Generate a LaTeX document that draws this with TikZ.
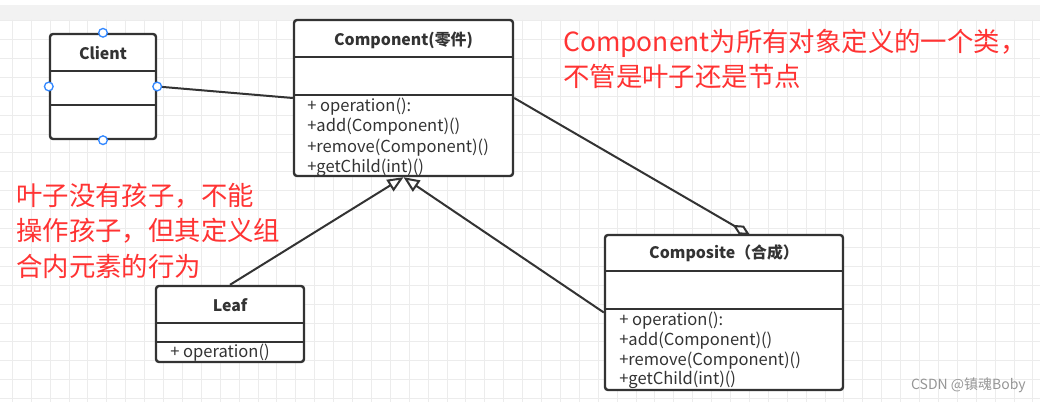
\documentclass[tikz,border=0pt]{standalone}
\usepackage{fontspec}
\setmainfont{Noto Sans CJK SC}
\usepackage{xcolor}
\usetikzlibrary{arrows.meta}

\definecolor{umlgray}{RGB}{51,51,51}
\definecolor{notered}{RGB}{255,51,51}
\definecolor{gridgray}{RGB}{236,236,236}
\definecolor{bandgray}{RGB}{242,242,242}
\definecolor{handleblue}{RGB}{51,136,255}

\tikzset{
	umlbox/.style={draw=umlgray, line width=1.8pt, rounded corners=2.25pt, fill=white, inner sep=0pt},
	umlsep/.style={draw=umlgray, line width=1.8pt},
	umltitle/.style={inner sep=0.75pt, text=umlgray, font=\bfseries\fontsize{11.9}{13}\selectfont},
	umlop/.style={anchor=west, inner sep=0.75pt, text=umlgray, font=\fontsize{12.4}{14}\selectfont},
	link/.style={draw=umlgray, line width=1.5pt},
	handle/.style={circle, draw=handleblue, fill=white, line width=1pt, minimum size=6.5pt, inner sep=0pt},
	notetext/.style={anchor=north west, inner sep=0pt, align=left, text=notered, font=\fontsize{19.8}{26.5}\selectfont},
}

\begin{document}
\begin{tikzpicture}[x=0.75pt,y=0.75pt,yscale=-1,xscale=1]
			\useasboundingbox (0,0) rectangle (1040,402);
			%Background and grid
			\fill [white] (0,0) rectangle (1040,402);
			\fill [bandgray] (0,5) rectangle (1040,20);
			\foreach \gx in {0,...,54} \draw [gridgray, line width=0.75pt] ({12.3+18.9*\gx},20) -- ({12.3+18.9*\gx},402);
			\foreach \gy in {0,...,20} \draw [gridgray, line width=0.75pt] (0,{20.7+18.9*\gy}) -- (1040,{20.7+18.9*\gy});

			%Shape: Client box
			\node [umlbox, minimum width=79.5pt, minimum height=78.75pt] (client) at (103,86.5) {};
			\draw [umlsep] (50,71) -- (156,71) ;
			\draw [umlsep] (50,105) -- (156,105) ;
			%Shape: Component box
			\node [umlbox, minimum width=164.25pt, minimum height=117pt] (component) at (403.5,98) {};
			\draw [umlsep] (294,57) -- (513,57) ;
			\draw [umlsep] (294,95) -- (513,95) ;
			%Shape: Composite box
			\node [umlbox, minimum width=178.5pt, minimum height=116.25pt] (composite) at (724,312.5) {};
			\draw [umlsep] (605,271) -- (843,271) ;
			\draw [umlsep] (605,309) -- (843,309) ;
			%Shape: Leaf box
			\node [umlbox, minimum width=111pt, minimum height=57pt] (leaf) at (230,324) {};
			\draw [umlsep] (156,323) -- (304,323) ;
			\draw [umlsep] (156,342) -- (304,342) ;

			%Straight Lines
			\coordinate (aggend) at (750,235);
			\draw [link] (client.east) -- (component.west) ;
			\draw [link, -{Diamond[length=15pt, width=7.5pt, fill=white, line width=1.5pt]}] (component.east) -- (aggend) ;
			\draw [link, -{Triangle[open, length=12pt, width=10pt, line width=1.5pt]}] (leaf.north) -- (component.south) ;
			\draw [link, -{Triangle[open, length=12pt, width=10pt, line width=1.5pt]}] (composite.west) -- (component.south) ;

			%Shape: Circle handles
			\node [handle] (hnorth) at (client.north) {};
			\node [handle] (hsouth) at (client.south) {};
			\node [handle] (hwest) at (client.west) {};
			\node [handle] (heast) at (client.east) {};

			% Text Node
			\node [umltitle] (clientname) at (103,53) {Client};
			% Text Node
			\node [umltitle] (componentname) at (403.5,40) {Component(零件)};
			\node [umlop] (compop1) at (306,107) {+ operation():};
			\node [umlop] (compop2) at (306,127) {+add(Component)()};
			\node [umlop] (compop3) at (306,148) {+remove(Component)()};
			\node [umlop] (compop4) at (306,168) {+getChild(int)()};
			% Text Node
			\node [umltitle] (compositename) at (724,253) {Composite（合成）};
			\node [umlop] (cmpop1) at (618,321) {+ operation():};
			\node [umlop] (cmpop2) at (618,341) {+add(Component)()};
			\node [umlop] (cmpop3) at (618,361) {+remove(Component)()};
			\node [umlop] (cmpop4) at (618,380) {+getChild(int)()};
			% Text Node
			\node [umltitle] (leafname) at (230,305) {Leaf};
			\node [umlop] (leafop1) at (169,353) {+ operation()};

			% Text Node
			\node [notetext] (topnote) at (563,29) {Component为所有对象定义的一个类，\\不管是叶子还是节点};
			% Text Node
			\node [notetext] (leftnote) at (16,183) {叶子没有孩子，不能\\操作孩子，但其定义组\\合内元素的行为};
			% Text Node
			\node [anchor=east, inner sep=0pt, text={rgb,255:red,150;green,150;blue,150}, font=\fontsize{10.5}{12}\selectfont] (mark) at (1026,385) {CSDN @镇魂Boby};
\end{tikzpicture}
\end{document}
